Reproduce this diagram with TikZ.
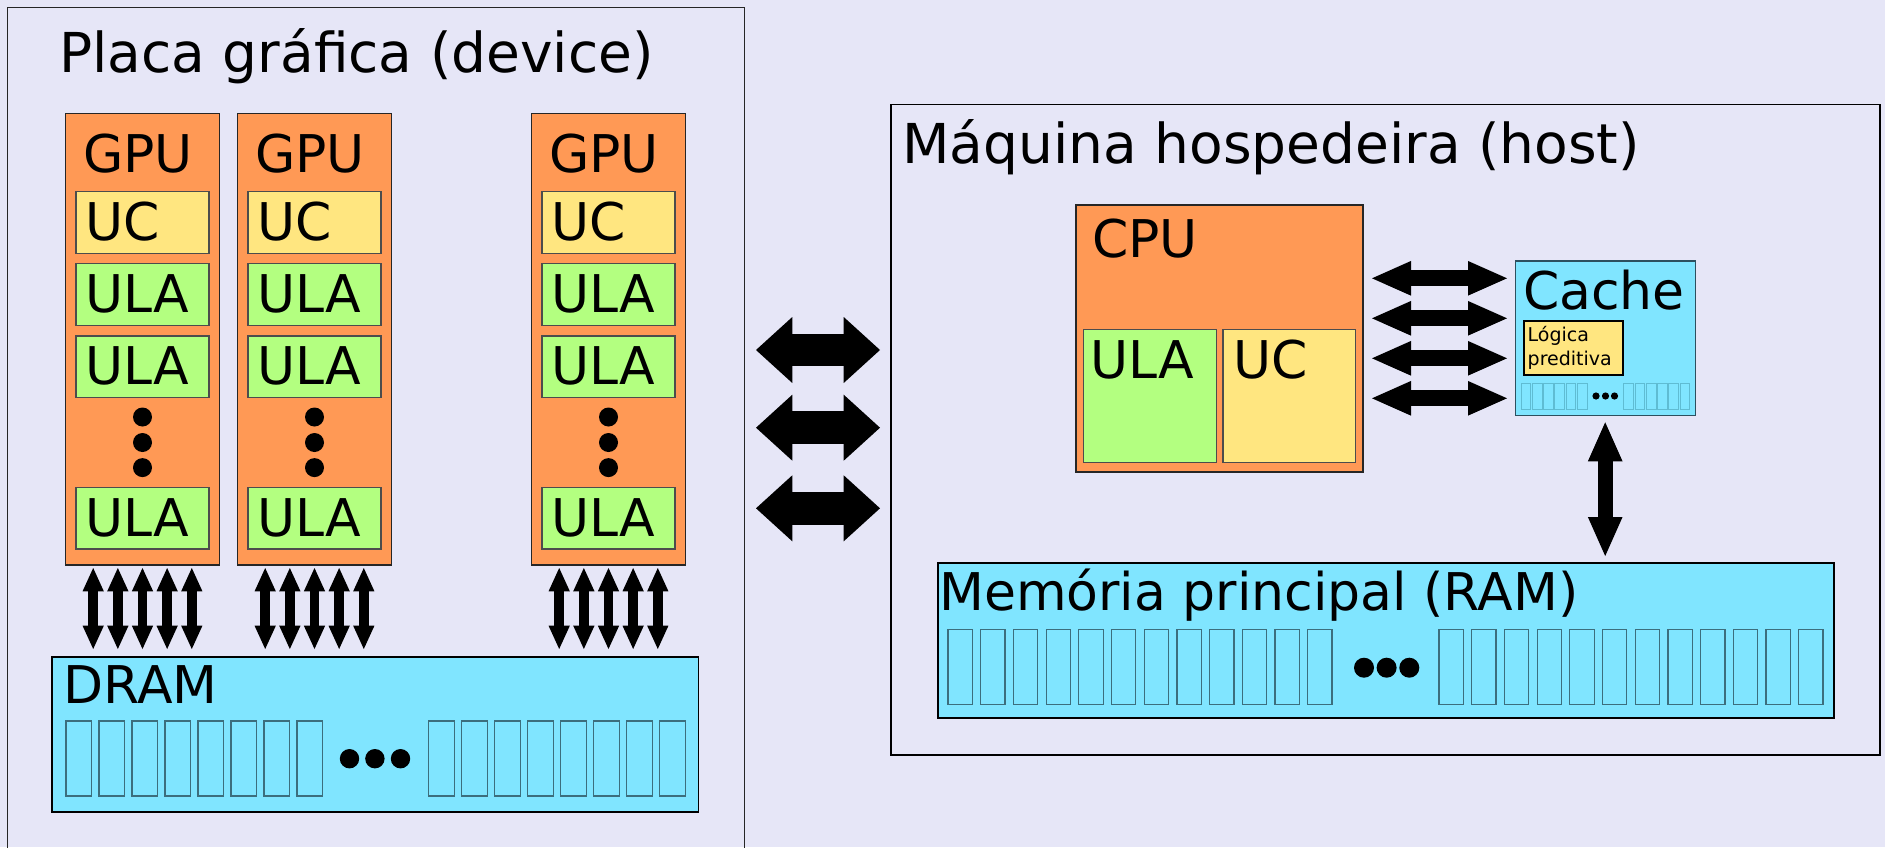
\documentclass[tikz,border=0pt]{standalone}
\usepackage{fontspec}
\setmainfont{DejaVu Sans}
\usetikzlibrary{arrows.meta}
\definecolor{bgc}{RGB}{230,230,247}
\definecolor{orc}{HTML}{FF9955}
\definecolor{ylc}{HTML}{FFE680}
\definecolor{grc}{HTML}{B3FF80}
\definecolor{cyc}{HTML}{80E5FF}
\definecolor{celline}{RGB}{60,110,125}
\definecolor{cachecell}{RGB}{95,188,211}
\definecolor{cacheline}{RGB}{45,80,95}
\begin{document}
\begin{tikzpicture}[x=1pt,y=-1pt,
  big/.style={font=\fontsize{52}{60}\selectfont, anchor=base west, inner sep=0},
  ttl/.style={font=\fontsize{55}{64}\selectfont, anchor=base west, inner sep=0},
  small/.style={font=\fontsize{19}{24}\selectfont, anchor=base west, inner sep=0},
  frame/.style={draw=black!85, line width=1.5, anchor=north west, inner sep=0, outer sep=0},
  orbox/.style={draw=black!85, line width=1.5, fill=orc, anchor=north west, inner sep=0, outer sep=0},
  ucbox/.style={draw=black!70, line width=1.3, fill=ylc, anchor=north west, inner sep=0, outer sep=0},
  ulabox/.style={draw=black!70, line width=1.3, fill=grc, anchor=north west, inner sep=0, outer sep=0},
  membox/.style={draw=black, line width=1.8, fill=cyc, anchor=north west, inner sep=0, outer sep=0},
  cell/.style={draw=celline, line width=1.2, fill=cyc, anchor=north west, inner sep=0, outer sep=0},
  ccell/.style={draw=cachecell, line width=1, fill=cyc, anchor=north west, inner sep=0, outer sep=0},
  sarr/.style={line width=9.7, {Triangle[width=21.3pt,length=23.3pt,line width=0pt]}-{Triangle[width=21.3pt,length=23.3pt,line width=0pt]}},
  barr/.style={line width=32.7, {Triangle[width=66pt,length=36.3pt,line width=0pt]}-{Triangle[width=66pt,length=36.3pt,line width=0pt]}},
  carr/.style={line width=16, {Triangle[width=34.7pt,length=39pt,line width=0pt]}-{Triangle[width=34.7pt,length=39pt,line width=0pt]}},
  varr/.style={line width=14.6, {Triangle[width=34.7pt,length=39pt,line width=0pt]}-{Triangle[width=34.7pt,length=39pt,line width=0pt]}}
]
\useasboundingbox (0,0) rectangle (1885,847);
\fill[bgc] (0,0) rectangle (1885,847);

% ---------- device ----------
\node[frame, minimum width=737, minimum height=870] (device) at (7.3,7.5) {};
\node[ttl] (devicet) at (59,72) {Placa gráfica (device)};

\foreach \gx [count=\i] in {65.5,237.5,531.5} {
  \node[orbox, minimum width=154, minimum height=451.5] (gpu\i) at (\gx,113.5) {};
  \node[big] (gput\i) at (\gx+17.5,172) {GPU};
  \node[ucbox, minimum width=133, minimum height=62] (uc\i) at (\gx+10.5,191.5) {};
  \node[big] (uct\i) at (\gx+20,240.5) {UC};
  \node[ulabox, minimum width=133, minimum height=61.5] (ulaa\i) at (\gx+10.5,263.8) {};
  \node[big] (ulaat\i) at (\gx+20,312.5) {ULA};
  \node[ulabox, minimum width=133, minimum height=61.5] (ulab\i) at (\gx+10.5,336) {};
  \node[big] (ulabt\i) at (\gx+20,384.7) {ULA};
  \node[ulabox, minimum width=133, minimum height=61.5] (ulac\i) at (\gx+10.5,487.6) {};
  \node[big] (ulact\i) at (\gx+20,536.3) {ULA};
  \foreach \dy in {417,442.5,467.6} \fill (\gx+77,\dy) circle (9.5);
  \foreach \k in {0,...,4} {
    \coordinate (ga\i\k) at (\gx+77+24.65*\k-49.3,568);
    \coordinate (gb\i\k) at (\gx+77+24.65*\k-49.3,649);
    \draw[sarr] (ga\i\k) -- (gb\i\k);
  }
}

\node[membox, minimum width=646.5, minimum height=155.6] (dram) at (52,656.7) {};
\node[big] (dramt) at (63,703) {DRAM};
\foreach \k in {0,...,7} {
  \node[cell, minimum width=25.7, minimum height=75] (dl\k) at (66+33*\k,721) {};
  \node[cell, minimum width=25.7, minimum height=75] (dr\k) at (428.5+33*\k,721) {};
}
\foreach \dx in {349.5,374.9,400.5} \fill (\dx,758.7) circle (9.7);

% ---------- big arrows ----------
\foreach \yy [count=\j] in {350,427.7,508.3} {
  \coordinate (bl\j) at (756,\yy);
  \coordinate (br\j) at (880,\yy);
  \draw[barr] (bl\j) -- (br\j);
}

% ---------- host ----------
\node[frame, draw=black, line width=1.8, minimum width=989, minimum height=650.5] (host) at (891,104.5) {};
\node[ttl] (hostt) at (902,163.3) {Máquina hospedeira (host)};

\node[orbox, minimum width=287, minimum height=267] (cpu) at (1076,205) {};
\node[big] (cput) at (1092,257.3) {CPU};
\node[ulabox, minimum width=133, minimum height=132.5] (cpuula) at (1083.3,329.7) {};
\node[big] (cpuulat) at (1090,378.3) {ULA};
\node[ucbox, minimum width=132.5, minimum height=132.5] (cpuuc) at (1223,329.7) {};
\node[big] (cpuuct) at (1233.5,378.3) {UC};

\node[draw=cacheline, line width=1.3, fill=cyc, anchor=north west, inner sep=0, outer sep=0, minimum width=180.5, minimum height=154.7] (cache) at (1515.2,261) {};
\node[big] (cachet) at (1523,309.3) {Cache};
\node[draw=black, line width=1.8, fill=ylc, anchor=north west, inner sep=0, outer sep=0, minimum width=99, minimum height=54] (logic) at (1524,320.7) {};
\node[small] (logict1) at (1527.5,341.3) {Lógica};
\node[small] (logict2) at (1527.5,365.3) {preditiva};
\foreach \k in {0,...,5} {
  \node[ccell, minimum width=9.7, minimum height=26.5] (cl\k) at (1521+11.3*\k,383) {};
  \node[ccell, minimum width=9.7, minimum height=26.5] (cr\k) at (1623.7+11.3*\k,383) {};
}
\foreach \dx in {1596,1605.5,1614.5} \fill (\dx,396) circle (3.6);

\foreach \yy [count=\j] in {278.3,318.3,358.3,398.3} {
  \coordinate (cpa\j) at (1372,\yy);
  \coordinate (cpb\j) at (1507,\yy);
  \draw[carr] (cpa\j) -- (cpb\j);
}
\coordinate (va) at (1605.2,422.3);
\coordinate (vb) at (1605.2,556);
\draw[varr] (va) -- (vb);

\node[membox, minimum width=896, minimum height=154.4] (ram) at (937.7,563.3) {};
\node[big] (ramt) at (939,610) {Memória principal (RAM)};
\foreach \k in {0,...,11} {
  \node[cell, minimum width=24.3, minimum height=75] (rl\k) at (948+32.7*\k,629.3) {};
  \node[cell, minimum width=24.3, minimum height=75] (rr\k) at (1439+32.7*\k,629.3) {};
}
\foreach \dx in {1364,1386.6,1409.3} \fill (\dx,667.7) circle (10);
\end{tikzpicture}
\end{document}
